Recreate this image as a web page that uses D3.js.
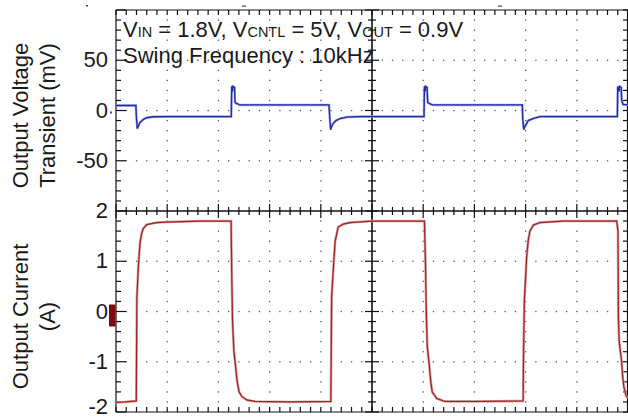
<!DOCTYPE html>
<html>
<head>
<meta charset="utf-8">
<script src="https://cdn.jsdelivr.net/npm/d3@7"></script>
<style>
  body { margin: 0; background: #fff; }
  svg text { font-family: "Liberation Sans", Arial, sans-serif; fill: #1a1a1a; }
</style>
</head>
<body>
<div class="chart"></div>
<script>
// time in us (25 us/div), voltage in mV, current in A
const vTime = [0, 9.7, 10.0, 10.4, 11.7, 13.3, 15.0, 18.2, 26.4, 56.3, 56.5, 56.9, 57.1, 57.9, 58.1, 58.8, 60.5,
  104.0, 104.4, 104.8, 105.1, 106.0, 107.4, 109.4, 112.8, 119.1, 150.4, 150.6, 151.0, 151.2, 151.9, 152.2, 152.9, 154.6,
  198.4, 198.6, 199.1, 199.4, 201.3, 203.6, 207.0, 244.8, 245.0, 245.6, 245.9, 246.7, 246.9, 247.6, 250];
const vOut = [5, 5, -8, -18, -12, -9, -7.2, -6.2, -6, -6, 24, 19, 24, 23, 8, 7, 5.5,
  5.5, -8, -19, -17, -13, -10, -8, -6.5, -6, -6, 24, 19, 24, 23, 8, 7, 5.5,
  5.5, -8, -19, -17, -10, -8, -6, -6, 24, 19, 24, 23, 10, 6, 5.5];

const iTime = [0, 4.4, 9.9, 10.2, 10.9, 11.7, 12.5, 13.3, 15.0, 19.9, 24.8, 41.0, 56.2,
  56.5, 56.9, 57.6, 58.4, 59.2, 60.1, 61.4, 63.8, 67.9, 85.0, 104.9,
  105.3, 106.2, 107.0, 108.5, 111.0, 114.3, 125.0, 150.6,
  151.1, 151.5, 152.0, 152.8, 153.7, 154.4, 156.6, 160.6, 177.7, 198.8,
  199.0, 199.4, 199.9, 200.5, 201.3, 202.1, 203.8, 207.0, 218.3, 244.5,
  245.1, 245.3, 245.7, 246.9, 247.4, 248.0, 249.0, 250];
const iOut = [-1.81, -1.80, -1.78, 0.28, 0.88, 1.35, 1.55, 1.65, 1.73, 1.77, 1.78, 1.80, 1.80,
  0.8, -0.2, -0.8, -1.1, -1.4, -1.6, -1.69, -1.76, -1.79, -1.80, -1.79,
  0.3, 0.9, 1.4, 1.68, 1.74, 1.77, 1.80, 1.80,
  1.0, 0, -0.7, -1.0, -1.4, -1.6, -1.73, -1.79, -1.79, -1.78,
  -0.78, 0.22, 0.6, 1.08, 1.42, 1.6, 1.72, 1.77, 1.80, 1.80,
  1.6, -0.1, -0.6, -1.0, -1.3, -1.5, -1.67, -1.72];

const vTicks = [50, 0, -50];
const iTicks = [2, 1, 0, -1, -2];

const W = 628, H = 417;
const pLeft = 116, pRight = 628, pTop = 10, pBottom = 412, pMid = (pTop + pBottom) / 2;

const svg = d3.select('.chart')
  .append('svg')
    .attr('width', W)
    .attr('height', H);

const x = d3.scaleLinear().domain([0, 250]).range([pLeft, pRight]);
const yV = d3.scaleLinear().domain([100, -100]).range([pTop, pMid]);
const yI = d3.scaleLinear().domain([2, -2]).range([pMid, pBottom]);
const gx = d3.scaleLinear().domain([0, 10]).range([pLeft, pRight]);
const gy = d3.scaleLinear().domain([0, 8]).range([pTop, pBottom]);

// dotted graticule
const grid = svg.append('g').attr('fill', '#555');
[1, 2, 3, 5, 6, 7].forEach(j => {
  d3.range(1, 50).filter(k => k !== 25).forEach(k => {
    grid.append('rect').attr('x', gx(k / 5) - 0.6).attr('y', gy(j) - 0.6).attr('width', 1.3).attr('height', 1.3);
  });
});
[1, 2, 3, 4, 6, 7, 8, 9].forEach(i => {
  d3.range(1, 40).filter(k => k !== 20 && k % 5 !== 0).forEach(k => {
    grid.append('rect').attr('x', gx(i) - 0.6).attr('y', gy(k / 5) - 0.6).attr('width', 1.3).attr('height', 1.3);
  });
});

// frame and centre axes
const frame = svg.append('g').attr('stroke', '#111').attr('stroke-width', 1.2);
frame.append('line').attr('x1', pLeft).attr('x2', pLeft).attr('y1', pTop).attr('y2', pBottom);
frame.append('line').attr('x1', pLeft).attr('x2', pRight).attr('y1', pTop).attr('y2', pTop);
frame.append('line').attr('x1', pLeft).attr('x2', pRight).attr('y1', pBottom).attr('y2', pBottom);
frame.append('line').attr('x1', pRight - 0.5).attr('x2', pRight - 0.5).attr('y1', pTop).attr('y2', pBottom);
frame.append('line').attr('x1', pLeft).attr('x2', pRight).attr('y1', pMid).attr('y2', pMid).attr('stroke-width', 1.6);
frame.append('line').attr('x1', gx(5)).attr('x2', gx(5)).attr('y1', pTop).attr('y2', pBottom).attr('stroke-width', 1.6);

d3.range(0, 51).forEach(k => {
  const px = gx(k / 5), major = k % 5 === 0;
  frame.append('line').attr('x1', px).attr('x2', px).attr('y1', pMid - (major ? 7 : 4)).attr('y2', pMid + (major ? 7 : 4));
  frame.append('line').attr('x1', px).attr('x2', px).attr('y1', pTop).attr('y2', pTop + 5);
  frame.append('line').attr('x1', px).attr('x2', px).attr('y1', pBottom).attr('y2', pBottom - 5);
});
d3.range(0, 41).forEach(k => {
  const py = gy(k / 5), major = k % 5 === 0;
  frame.append('line').attr('x1', gx(5) - (major ? 7 : 4)).attr('x2', gx(5) + (major ? 7 : 4)).attr('y1', py).attr('y2', py);
  frame.append('line').attr('x1', pLeft).attr('x2', pLeft + (major ? 10 : 5)).attr('y1', py).attr('y2', py);
  frame.append('line').attr('x1', pRight).attr('x2', pRight - 5).attr('y1', py).attr('y2', py);
});

// waveforms
const vLine = d3.line().x((d, i) => x(vTime[i])).y(d => yV(d));
const iLine = d3.line().x((d, i) => x(iTime[i])).y(d => yI(d));

svg.append('path').datum(iOut).attr('d', iLine)
  .attr('fill', 'none').attr('stroke', '#d4a2a2').attr('stroke-width', 2.6);
svg.append('path').datum(iOut).attr('d', iLine)
  .attr('fill', 'none').attr('stroke', '#9e2424').attr('stroke-width', 1.2);
svg.append('path').datum(vOut).attr('d', vLine)
  .attr('fill', 'none').attr('stroke', '#9ea6e0').attr('stroke-width', 2.4);
svg.append('path').datum(vOut).attr('d', vLine)
  .attr('fill', 'none').attr('stroke', '#1f2ca6').attr('stroke-width', 1.3);

// channel markers
svg.append('rect').attr('x', 109).attr('y', yI(0) - 7).attr('width', 6.5).attr('height', 22).attr('fill', '#7d0b0b');
svg.append('rect').attr('x', 110).attr('y', yV(0) + 1).attr('width', 2).attr('height', 2).attr('fill', '#3040c0');
svg.append('rect').attr('x', 86).attr('y', 5).attr('width', 2).attr('height', 1.5).attr('fill', '#444');
svg.append('rect').attr('x', gx(2.5) - 2).attr('y', 5.5).attr('width', 4).attr('height', 1.2).attr('fill', '#444');
svg.append('rect').attr('x', gx(7.5) - 2).attr('y', 5.5).attr('width', 4).attr('height', 1.2).attr('fill', '#444');

// tick labels
svg.selectAll('.vtick').data(vTicks).enter().append('text')
  .attr('x', 108).attr('y', d => yV(d) + 7)
  .attr('text-anchor', 'end').style('font-size', '22px').text(d => d);
svg.selectAll('.itick').data(iTicks).enter().append('text')
  .attr('x', 108).attr('y', d => Math.min(yI(d) + 7, H - 3.5))
  .attr('text-anchor', 'end').style('font-size', '22px').text(d => d);

// axis titles
const title = (lines, cy) => {
  lines.forEach((t, i) => {
    svg.append('text')
      .attr('transform', `translate(${[28, 55][i]}, ${cy}) rotate(-90)`)
      .attr('text-anchor', 'middle').style('font-size', '22px').text(t);
  });
};
title(['Output Voltage', 'Transient (mV)'], yV(-5));
title(['Output Current', '(A)'], yI(-0.1));

// header
const h1 = svg.append('text').attr('x', 123).attr('y', 37).style('font-size', '22px');
[['V', ''], ['IN', 'sub'], [' = 1.8V, V', ''], ['CNTL', 'sub'], [' = 5V, V', ''], ['OUT', 'sub'], [' = 0.9V', '']]
  .forEach(([t, k]) => {
    h1.append('tspan').text(t).style('font-size', k ? '14.5px' : null);
  });
svg.append('text').attr('x', 123).attr('y', 62.5).style('font-size', '22px').text('Swing Frequency : 10kHz');
</script>
</body>
</html>
